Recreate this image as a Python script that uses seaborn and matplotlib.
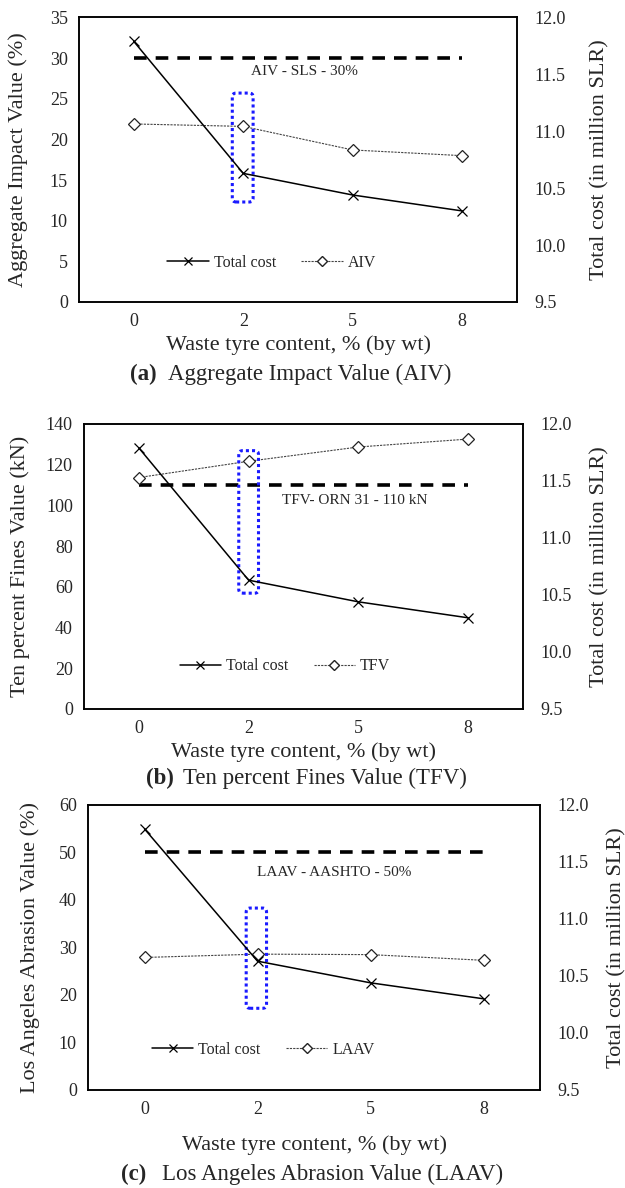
"""
Waste tyre content vs aggregate properties and total cost (three stacked panels).
"""

import matplotlib.pyplot as plt
import seaborn as sns
import numpy as np
from matplotlib.lines import Line2D
from matplotlib.patches import FancyBboxPatch


# Data
content = ['0', '2', '5', '8']
total_cost = [11.79, 10.63, 10.44, 10.30]   # million SLR

aiv = [21.9, 21.6, 18.7, 18.0]
tfv = [113.7, 121.7, 128.7, 132.6]
laav = [27.9, 28.6, 28.5, 27.3]

aiv_limit = 30
tfv_limit = 110
laav_limit = 50

sns.set_style("white")
plt.rcParams['font.family'] = ['Liberation Serif', 'DejaVu Serif']
plt.rcParams['axes.linewidth'] = 1.2

TICK_FS = 13
LABEL_FS = 16
SMALL_FS = 11.5


def draw_panel(fig, rect, values, name, ylabel, ymax, ystep, limit, limit_text,
               limit_text_xy, box, legend_xy, caption_letter, caption_text,
               caption_xy, xlabelpad, ylabel_x, y2label_x):
    ax = fig.add_axes(rect)

    # property on the left axis
    sns.pointplot(x=content, y=values, ax=ax, errorbar=None, color='#444444',
                  markers='D', linestyles=(0, (2, 1)), linewidth=0.8,
                  markersize=6, markerfacecolor='white',
                  markeredgecolor='#222222', markeredgewidth=0.9, zorder=3)

    # specification limit
    ax.hlines(limit, 0, len(content) - 1, colors='black', linestyles=(0, (3.5, 2.5)),
              linewidth=2.6, zorder=2)
    ax.text(limit_text_xy[0], limit_text_xy[1], limit_text, ha='center', va='center',
            fontsize=SMALL_FS - 0.5)

    ax.set_ylim(0, ymax)
    ax.set_yticks(np.arange(0, ymax + ystep / 2, ystep))
    ax.set_xlim(-0.5, len(content) - 0.5)
    ax.set_ylabel(ylabel, fontsize=LABEL_FS)
    ax.yaxis.set_label_coords(ylabel_x, 0.5)
    ax.set_xlabel('Waste tyre content, % (by wt)', fontsize=LABEL_FS, labelpad=xlabelpad)
    ax.tick_params(axis='both', length=0, labelsize=TICK_FS, pad=8)

    # highlighted 2 % case
    fig_w, fig_h = fig.get_size_inches() * fig.dpi
    x_per_px = (len(content)) / (rect[2] * fig_w)
    y_per_px = ymax / (rect[3] * fig_h)
    patch = FancyBboxPatch((box[0], box[2]), box[1] - box[0], box[3] - box[2],
                           boxstyle='round,pad=0,rounding_size=0.035',
                           mutation_aspect=y_per_px / x_per_px,
                           fill=False, edgecolor='#1a1aff', linewidth=2.2,
                           linestyle=(0, (1, 1)), zorder=4)
    ax.add_patch(patch)

    # total cost on the right axis
    ax2 = ax.twinx()
    sns.pointplot(x=content, y=total_cost, ax=ax2, errorbar=None, color='black',
                  markers='x', linestyles='-', linewidth=1.1, markersize=7,
                  markeredgewidth=0.9, zorder=3)
    ax2.set_ylim(9.5, 12.0)
    ax2.set_yticks(np.arange(9.5, 12.01, 0.5))
    ax2.set_yticklabels([f'{v:.1f}' for v in np.arange(9.5, 12.01, 0.5)])
    ax2.set_ylabel('Total cost (in million SLR)', fontsize=LABEL_FS)
    ax2.yaxis.set_label_coords(y2label_x, 0.5)
    ax2.tick_params(axis='y', length=0, labelsize=TICK_FS, pad=12.5)
    ax2.set_xlim(-0.5, len(content) - 0.5)
    for sp in ax2.spines.values():
        sp.set_color('black')
        sp.set_linewidth(1.2)

    handles = [
        Line2D([], [], color='black', marker='x', linestyle='-', linewidth=1.1,
               markersize=6, markeredgewidth=0.9),
        Line2D([], [], color='#444444', marker='D', linestyle=(0, (2, 1)), linewidth=0.8,
               markersize=5.5, markerfacecolor='white', markeredgecolor='#222222'),
    ]
    ax2.legend(handles, ['Total cost', name], ncol=2, frameon=False,
               fontsize=SMALL_FS, loc='center', bbox_to_anchor=legend_xy,
               bbox_transform=ax.transData, handlelength=2.6, handletextpad=0.3,
               columnspacing=1.6)

    fig.text(caption_xy[0], caption_xy[1], caption_letter, fontsize=LABEL_FS + 0.5,
             fontweight='bold', ha='right', va='center')
    fig.text(caption_xy[2], caption_xy[1], caption_text,
             fontsize=LABEL_FS + 0.5, ha='left', va='center')
    return ax, ax2


fig = plt.figure(figsize=(6.25, 11.88), dpi=100)

draw_panel(fig, [0.1264, 0.7458, 0.7008, 0.2395], aiv, 'AIV', 'Aggregate Impact Value (%)',
           35, 5, aiv_limit, 'AIV - SLS - 30%', (1.56, 28.3),
           (0.90, 1.09, 12.3, 25.7), (1.26, 4.8),
           '(a)', 'Aggregate Impact Value (AIV)', (0.2512, 1 - 374 / 1188, 0.2688),
           4, -0.116, 1.167)

draw_panel(fig, [0.1344, 0.4032, 0.7024, 0.2399], tfv, 'TFV', 'Ten percent Fines Value (kN)',
           140, 20, tfv_limit, 'TFV- ORN 31 - 110 kN', (1.97, 102.2),
           (0.91, 1.09, 56.9, 126.9), (1.33, 20.9),
           '(b)', 'Ten percent Fines Value (TFV)', (0.2784, 1 - 778 / 1188, 0.2928),
           4, -0.123, 1.153)

draw_panel(fig, [0.1408, 0.0825, 0.7232, 0.2399], laav, 'LAAV', 'Los Angeles Abrasion Value (%)',
           60, 10, laav_limit, 'LAAV - AASHTO - 50%', (1.68, 45.8),
           (0.90, 1.08, 17.2, 38.3), (1.05, 8.5),
           '(c)', 'Los Angeles Abrasion Value (LAAV)', (0.2336, 1 - 1174 / 1188, 0.2592),
           12, -0.106, 1.148)

fig.savefig('out.png', dpi=100)
plt.close(fig)
